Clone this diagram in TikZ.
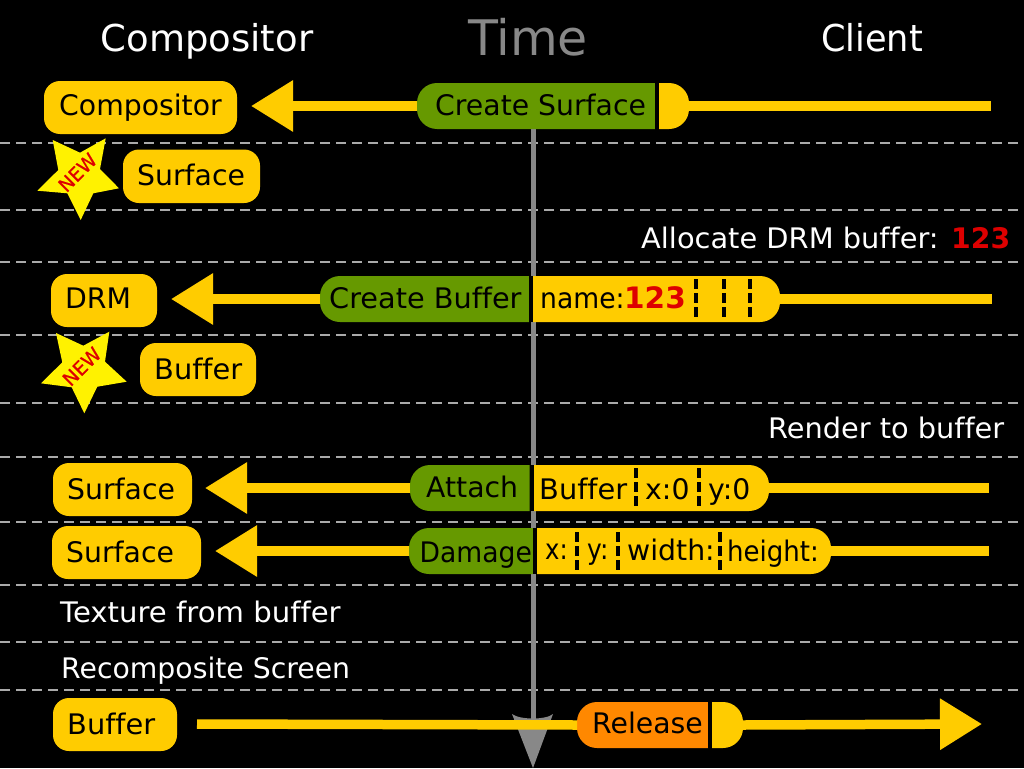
\documentclass[tikz,border=0pt]{standalone}
\usepackage{fontspec}
\setmainfont[Ligatures=NoCommon]{DejaVu Sans}
\newfontfamily\starfont[FakeBold=0.6]{DejaVu Sans}
\usetikzlibrary{arrows.meta}
\definecolor{gold}{HTML}{FFCC00}
\definecolor{leaf}{HTML}{669900}
\definecolor{amber}{HTML}{FF8800}
\definecolor{grayline}{HTML}{888888}
\definecolor{dashgray}{HTML}{AAAAAA}
\definecolor{newred}{HTML}{DD0000}
\tikzset{
  x=1pt,y=-1pt,
  lbl/.style={inner sep=0pt,anchor=base west,font=\fontsize{28.3}{30}\selectfont,text=black},
  wlbl/.style={lbl,text=white},
  ttl/.style={inner sep=0pt,anchor=base,font=\fontsize{37}{40}\selectfont,text=white},
  boxfill/.style={fill=gold,rounded corners=16pt},
  shaft/.style={draw=gold,line width=9.5pt},
  headed/.style={shaft,-{Triangle[length=42pt,width=49pt,fill=gold]}},
  rowline/.style={draw=dashgray,line width=2pt,dash pattern=on 10pt off 6pt},
  sep/.style={draw=black,line width=4pt},
  field/.style={draw=black,line width=4pt,dash pattern=on 10pt off 4pt},
  newtag/.style={inner sep=0pt,rotate=45,text=newred,font=\fontsize{19}{20}\selectfont\starfont}
}
\newcommand{\leftpill}[6]{%
  \fill[#6] (#2+20,#3) -- (#4,#3) -- (#4,#5) -- (#2+20,#5)
    arc[start angle=270,end angle=180,radius=20pt] -- (#2,#3+20)
    arc[start angle=180,end angle=90,radius=20pt] -- cycle;
  \coordinate (#1) at (#2,#3/2+#5/2);}
\newcommand{\rightpill}[6]{%
  \fill[#6] (#2,#3) -- (#4-20,#3)
    arc[start angle=90,end angle=0,radius=20pt] -- (#4,#5-20)
    arc[start angle=0,end angle=-90,radius=20pt] -- (#2,#5) -- cycle;
  \coordinate (#1) at (#4,#3/2+#5/2);}
\newcommand{\gbox}[5]{%
  \fill[boxfill] (#2,#3) rectangle (#4,#5);
  \coordinate (#1) at (#4,#3/2+#5/2);}
\begin{document}
\begin{tikzpicture}
\useasboundingbox (0,0) rectangle (1024,768);
\fill[black] (0,0) rectangle (1024,768);
% row separators
\foreach \yy/\nn in {143/a,210/b,262/c,335/d,403/e,457/f,522/g,585/h,642/i,690/j}{
  \coordinate (rl\nn) at (0,\yy); \coordinate (rr\nn) at (1024,\yy);
  \draw[rowline] (rl\nn) -- (rr\nn);
}
% time axis
\coordinate (axisTop) at (533,129);
\coordinate (axisEnd) at (533,720);
\draw[grayline,line width=5pt] (axisTop) -- (axisEnd);
\fill[grayline] (512,714) .. controls (520,720) and (546,720) .. (553,714) -- (533,768) -- cycle;
% titles
\node[ttl] (tComp) at (207,52) {Compositor};
\node[inner sep=0pt,anchor=base,text=grayline,font=\fontsize{49}{50}\selectfont] (tTime) at (528,56) {Time};
\node[ttl,xscale=0.95] (tClient) at (872,52) {Client};
% row 1
\gbox{bCompE}{44}{81}{237}{134}
\node[lbl] (bComp) at (59,115.5) {Compositor};
\coordinate (tip1) at (251,106);
\coordinate (end1) at (991,106);
\leftpill{p1w}{417}{83}{655}{129}{leaf}
\rightpill{p1e}{659}{83}{689}{129}{gold}
\draw[headed] (p1w) -- (tip1);
\draw[shaft] (p1e) -- (end1);
\coordinate (s1t) at (657,83); \coordinate (s1b) at (657,129);
\draw[sep] (s1t) -- (s1b);
\node[lbl] (cs) at (435,115) {Create Surface};
% row 2
\fill[yellow] (52.7,140) -- (80,152.7) -- (105.7,138.3) -- (100,169) -- (119,188.3) -- (93.3,193.3)
   -- (80.7,220) -- (67.3,193.3) -- (37.3,190.7) -- (58.3,170) -- cycle;
\node[newtag] (new1) at (77.5,172.5) {NEW};
\gbox{bSurfE}{123}{149.5}{260}{203}
\node[lbl] (bSurf) at (137,185) {Surface};
% allocate
\node[wlbl,xscale=1.02] (alloc) at (641,248) {Allocate DRM buffer:};
\node[lbl,text=newred,font=\fontsize{28.3}{30}\selectfont\bfseries] (alloc123) at (951,248) {123};
% row 4
\gbox{bDrmE}{51}{274}{157}{327}
\node[lbl] (bDrm) at (65,308) {DRM};
\coordinate (tip4) at (171,299);
\coordinate (end4) at (992,299);
\leftpill{p4w}{320}{276}{529}{322}{leaf}
\rightpill{p4e}{533}{276}{780}{322}{gold}
\draw[headed] (p4w) -- (tip4);
\draw[shaft] (p4e) -- (end4);
\fill[black] (529,276) rectangle (533,322);
\node[lbl,xscale=1.016] (cb) at (329,308) {Create Buffer};
\node[lbl,xscale=0.94] (nm) at (540,308) {name:};
\node[lbl,text=newred,font=\fontsize{29.5}{30}\selectfont\bfseries] (nm123) at (624,308) {123};
\foreach \xx/\nn in {696/a,723.5/b,750/c}{
  \coordinate (f4\nn t) at (\xx,279); \coordinate (f4\nn b) at (\xx,318);
  \draw[field] (f4\nn t) -- (f4\nn b);
}
% row 5
\fill[yellow] (56,333) -- (83.3,345.7) -- (109.3,331.7) -- (105,361.7) -- (126.7,381.7) -- (97.3,386.7)
   -- (84.3,413.3) -- (71.7,387.3) -- (41,383.3) -- (62.3,362.3) -- cycle;
\node[newtag] (new2) at (81.7,366.5) {NEW};
\gbox{bBufE}{140}{343}{256}{396}
\node[lbl,xscale=1.02] (bBuf) at (154,379) {Buffer};
\node[wlbl,xscale=1.017] (render) at (768,438) {Render to buffer};
% attach
\gbox{bSurf2E}{53}{463}{192}{516}
\node[lbl] (bSurf2) at (67,499) {Surface};
\coordinate (tip7) at (205,488);
\coordinate (end7) at (989,488);
\leftpill{p7w}{410}{465}{529.5}{511}{leaf}
\rightpill{p7e}{533.5}{465}{769}{511}{gold}
\draw[headed] (p7w) -- (tip7);
\draw[shaft] (p7e) -- (end7);
\fill[black] (529.5,465) rectangle (533.5,511);
\node[lbl] (att) at (426,497) {Attach};
\node[lbl,xscale=1.02] (bf) at (539,499) {Buffer};
\node[lbl] (x0) at (645,499) {x:0};
\node[lbl] (y0) at (708,499) {y:0};
\foreach \xx/\nn in {636/a,699/b}{
  \coordinate (f7\nn t) at (\xx,468); \coordinate (f7\nn b) at (\xx,506);
  \draw[field] (f7\nn t) -- (f7\nn b);
}
% damage
\gbox{bSurf3E}{52}{526}{201}{579}
\node[lbl] (bSurf3) at (66,562) {Surface};
\coordinate (tip8) at (215,551);
\coordinate (end8) at (989,551);
\leftpill{p8w}{409}{528}{533}{574}{leaf}
\rightpill{p8e}{537}{528}{831}{574}{gold}
\draw[headed] (p8w) -- (tip8);
\draw[shaft] (p8e) -- (end8);
\fill[black] (533,528) rectangle (537,574);
\node[lbl,xscale=0.94] (dmg) at (419.5,562) {Damage};
\node[lbl,xscale=0.86] (dx) at (545,559) {x:};
\node[lbl,xscale=0.88] (dy) at (587,559) {y:};
\node[lbl] (dw) at (627,560) {width:};
\node[lbl,xscale=0.92] (dh) at (727,561) {height:};
\foreach \xx/\nn in {577/a,618/b,720/c}{
  \coordinate (f8\nn t) at (\xx,532); \coordinate (f8\nn b) at (\xx,570);
  \draw[field] (f8\nn t) -- (f8\nn b);
}
% text rows
\node[wlbl,xscale=1.03] (tex) at (60,622) {Texture from buffer};
\node[wlbl] (rec) at (61,678) {Recomposite Screen};
% release
\gbox{bBuf2E}{53}{698}{177}{751}
\node[lbl,xscale=1.02] (bBuf2) at (67,734) {Buffer};
\coordinate (st11) at (197,724);
\coordinate (tip11) at (982,724);
\leftpill{p11w}{577}{702}{708}{748}{amber}
\rightpill{p11e}{712}{702}{743}{748}{gold}
\draw[shaft] (st11) -- (p11w);
\draw[headed] (p11e) -- (tip11);
\fill[black] (708,702) rectangle (712,748);
\node[lbl] (rel) at (592,733) {Release};
\end{tikzpicture}
\end{document}
